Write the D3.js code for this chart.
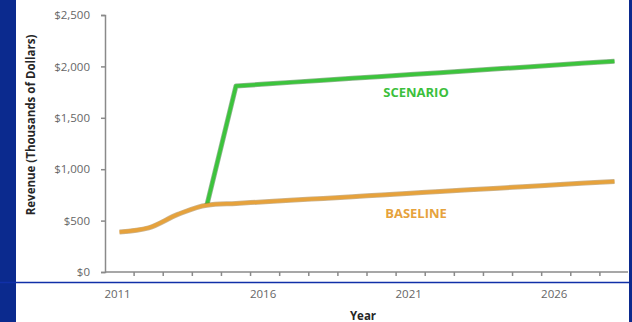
<!DOCTYPE html>
<html lang="en">
<head>
    <meta charset="UTF-8">
    <title>Revenue scenario vs baseline</title>
    <script src="https://cdn.jsdelivr.net/npm/d3@7/dist/d3.min.js"></script>
    <style>
        body { margin: 0; background: #fff; }
        svg { display: block; }
        .axis text { font-family: "Open Sans", sans-serif; font-size: 11.5px; fill: #666; }
        .axis path, .axis line { stroke: #8a8a8a; stroke-width: 1.5; }
    </style>
</head>
<body>
<script>
    // data (thousands of dollars)
    const years = d3.range(2011, 2029);
    const baseline = [390, 430, 560, 650, 667, 683, 700, 716, 733, 749, 766, 782, 799, 815, 832, 848, 865, 881];
    const scenario = [null, null, null, 650, 1810, 1828, 1847, 1865, 1884, 1902, 1921, 1939, 1958, 1976, 1995, 2013, 2032, 2050];
    const yTicks = [0, 500, 1000, 1500, 2000, 2500];
    const xLabels = [2011, 2016, 2021, 2026];

    const W = 632, H = 322;
    const svg = d3.select("body").append("svg").attr("width", W).attr("height", H);

    // blue frame pieces
    svg.append("rect").attr("x", 0).attr("y", 0).attr("width", 16).attr("height", H).attr("fill", "#0b2a8e");
    svg.append("rect").attr("x", 629).attr("y", 0).attr("width", 3).attr("height", H).attr("fill", "#0b2a8e");

    /* scales */
    let x = d3.scaleBand().domain(years).range([105, 629]).padding(0);
    let cx = d => x(d) + x.bandwidth() / 2;
    let y = d3.scaleLinear().domain([0, 2500]).range([272, 15]);

    /* y axis */
    let yAxis = d3.axisLeft(y)
        .tickValues(yTicks)
        .tickFormat(d => "$" + d3.format(",")(d))
        .tickSize(4)
        .tickSizeOuter(4)
        .tickPadding(11);
    svg.append("g").attr("class", "axis").attr("transform", "translate(105,0)").call(yAxis);

    /* x axis: ticks between categories, labels every 5 years */
    let xg = svg.append("g").attr("class", "axis");
    xg.append("line").attr("x1", 105).attr("x2", 628).attr("y1", 272).attr("y2", 272);
    xg.selectAll(".tk").data(years.slice(1))
        .enter().append("line")
        .attr("x1", d => x(d)).attr("x2", d => x(d))
        .attr("y1", 272).attr("y2", 276);
    xg.selectAll(".lb").data(xLabels)
        .enter().append("text")
        .attr("x", d => cx(d) - 2)
        .attr("y", 298)
        .attr("text-anchor", "middle")
        .text(d => d);

    // blue rule across the bottom
    svg.append("line").attr("x1", 0).attr("x2", 629).attr("y1", 282.5).attr("y2", 282.5)
        .attr("stroke", "#1030a8").attr("stroke-width", 1.5);

    /* lines */
    let pts = vals => years.map((yr, i) => [yr, vals[i]]);
    let line = d3.line()
        .defined(d => d[1] != null)
        .x(d => cx(d[0]))
        .y(d => y(d[1]));
    let smooth = d3.line()
        .x(d => cx(d[0]))
        .y(d => y(d[1]))
        .curve(d3.curveMonotoneX);

    function drawSeries(data, gen, color, edge) {
        svg.append("path").datum(data).attr("d", gen)
            .attr("fill", "none").attr("stroke", edge).attr("stroke-width", 5)
            .attr("stroke-linejoin", "round").attr("opacity", 0.5);
        svg.append("path").datum(data).attr("d", gen)
            .attr("fill", "none").attr("stroke", color).attr("stroke-width", 3.5)
            .attr("stroke-linejoin", "round");
    }
    drawSeries(pts(scenario), line, "#3cc43c", "#1d6e1d");
    drawSeries(pts(baseline), smooth, "#e6a23c", "#9a6a20");

    /* series labels */
    svg.append("text").attr("x", 416).attr("y", 97).attr("text-anchor", "middle")
        .style("font-family", "'Open Sans', sans-serif").style("font-size", "13px").style("font-weight", 700)
        .attr("fill", "#3cbf3c").text("SCENARIO");
    svg.append("text").attr("x", 416).attr("y", 218).attr("text-anchor", "middle")
        .style("font-family", "'Open Sans', sans-serif").style("font-size", "13px").style("font-weight", 700)
        .attr("fill", "#e6a23c").text("BASELINE");

    /* axis titles */
    svg.append("text")
        .attr("transform", "translate(35,125) rotate(-90)")
        .attr("text-anchor", "middle")
        .style("font-family", "'Open Sans', sans-serif").style("font-size", "11.5px").style("font-weight", 700)
        .attr("fill", "#262626").text("Revenue (Thousands of Dollars)");
    svg.append("text").attr("x", 363).attr("y", 320).attr("text-anchor", "middle")
        .style("font-family", "'Open Sans', sans-serif").style("font-size", "11.5px").style("font-weight", 700)
        .attr("fill", "#262626").text("Year");
</script>
</body>
</html>
